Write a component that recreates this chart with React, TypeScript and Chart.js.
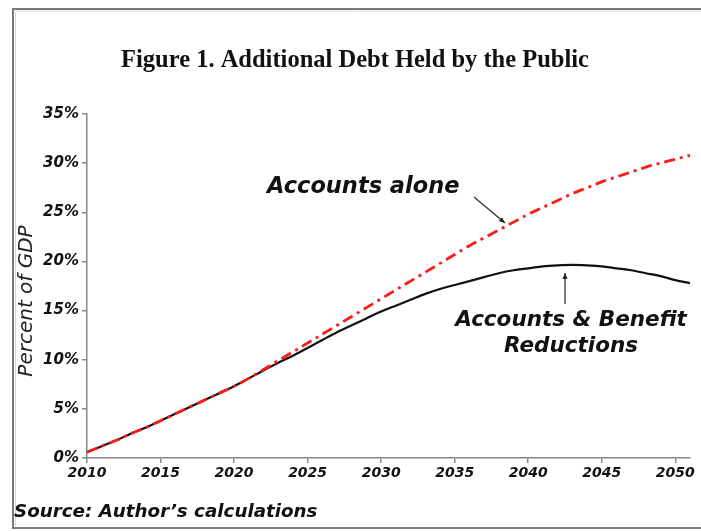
import React, { useEffect, useRef } from "react";
import { Chart, registerables } from "chart.js";

Chart.register(...registerables);

const years = [
  2010, 2011, 2012, 2013, 2014, 2015, 2016, 2017, 2018, 2019, 2020, 2021, 2022, 2023,
  2024, 2025, 2026, 2027, 2028, 2029, 2030, 2031, 2032, 2033, 2034, 2035, 2036, 2037,
  2038, 2039, 2040, 2041, 2042, 2043, 2044, 2045, 2046, 2047, 2048, 2049, 2050, 2051,
];

const accountsAlone = [
  0.6, 1.2, 1.8, 2.5, 3.1, 3.8, 4.5, 5.2, 5.9, 6.6, 7.3, 8.1, 9.0, 9.9,
  10.8, 11.7, 12.6, 13.5, 14.4, 15.3, 16.2, 17.1, 18.0, 18.9, 19.8, 20.7, 21.6, 22.4,
  23.2, 24.0, 24.8, 25.5, 26.2, 26.9, 27.5, 28.1, 28.6, 29.1, 29.6, 30.0, 30.4, 30.8,
];

const accountsAndBenefit = [
  0.6, 1.2, 1.8, 2.5, 3.1, 3.8, 4.5, 5.2, 5.9, 6.6, 7.3, 8.1, 8.9, 9.7,
  10.4, 11.2, 12.0, 12.8, 13.5, 14.2, 14.9, 15.5, 16.1, 16.7, 17.2, 17.6, 18.0, 18.4,
  18.8, 19.1, 19.3, 19.5, 19.6, 19.65, 19.6, 19.5, 19.3, 19.1, 18.8, 18.5, 18.1, 17.8,
];

const xTickValues = [2010, 2015, 2020, 2025, 2030, 2035, 2040, 2045, 2050];
const yTickValues = [0, 5, 10, 15, 20, 25, 30, 35];

const titleText = "Figure 1. Additional Debt Held by the Public";
const yAxisTitle = "Percent of GDP";
const labelAlone = "Accounts alone";
const labelBenefit1 = "Accounts & Benefit";
const labelBenefit2 = "Reductions";
const sourceText = "Source: Author\u2019s calculations";

const SANS = "'DejaVu Sans', sans-serif";

function arrow(ctx: CanvasRenderingContext2D, x1: number, y1: number, x2: number, y2: number) {
  ctx.save();
  ctx.strokeStyle = "#333";
  ctx.fillStyle = "#222";
  ctx.lineWidth = 1.3;
  ctx.beginPath();
  ctx.moveTo(x1, y1);
  ctx.lineTo(x2, y2);
  ctx.stroke();
  const ang = Math.atan2(y2 - y1, x2 - x1);
  const L = 6;
  const W = 2.5;
  ctx.beginPath();
  ctx.moveTo(x2, y2);
  ctx.lineTo(x2 - L * Math.cos(ang) + W * Math.sin(ang), y2 - L * Math.sin(ang) - W * Math.cos(ang));
  ctx.lineTo(x2 - L * Math.cos(ang) - W * Math.sin(ang), y2 - L * Math.sin(ang) + W * Math.cos(ang));
  ctx.closePath();
  ctx.fill();
  ctx.restore();
}

const decorPlugin = {
  id: "decor",
  beforeDraw(chart: any) {
    const ctx = chart.ctx as CanvasRenderingContext2D;
    ctx.save();
    ctx.fillStyle = "#ffffff";
    ctx.fillRect(0, 0, chart.width, chart.height);
    // frame
    ctx.strokeStyle = "#7a7a7a";
    ctx.lineWidth = 2;
    ctx.beginPath();
    ctx.moveTo(705, 9);
    ctx.lineTo(13, 9);
    ctx.lineTo(13, 528);
    ctx.lineTo(705, 528);
    ctx.stroke();
    ctx.strokeStyle = "#d8d8d8";
    ctx.lineWidth = 1;
    ctx.beginPath();
    ctx.moveTo(705, 11);
    ctx.lineTo(15.5, 11);
    ctx.lineTo(15.5, 526);
    ctx.stroke();
    ctx.restore();
  },
  afterDraw(chart: any) {
    const ctx = chart.ctx as CanvasRenderingContext2D;
    ctx.save();
    ctx.fillStyle = "#111";
    ctx.textBaseline = "middle";
    // title
    ctx.textAlign = "center";
    ctx.font = "bold 24.5px 'Liberation Serif', 'Times New Roman', serif";
    ctx.fillText(titleText, 355, 61);
    // y axis title
    ctx.save();
    ctx.translate(27, 301);
    ctx.rotate(-Math.PI / 2);
    ctx.font = "italic 20px " + SANS;
    ctx.fillStyle = "#222";
    ctx.fillText(yAxisTitle, 0, 0);
    ctx.restore();
    // annotations
    ctx.font = "italic bold 22.5px " + SANS;
    ctx.textAlign = "left";
    ctx.fillText(labelAlone, 267, 187);
    ctx.font = "italic bold 21.5px " + SANS;
    ctx.textAlign = "center";
    ctx.fillText(labelBenefit1, 571, 320);
    ctx.fillText(labelBenefit2, 571, 346);
    arrow(ctx, 474, 197, 505, 223);
    arrow(ctx, 565, 304, 565, 273);
    // source
    ctx.textAlign = "left";
    ctx.font = "italic bold 18.3px " + SANS;
    ctx.fillText(sourceText, 14, 512);
    ctx.restore();
  },
};

export default function App() {
  const ref = useRef<HTMLCanvasElement | null>(null);
  useEffect(() => {
    if (!ref.current) return;
    const tickFont = { family: SANS, size: 14, style: "italic" as const, weight: "bold" as const };
    const chart = new Chart(ref.current, {
      type: "line",
      data: {
        datasets: [
          {
            label: labelAlone,
            data: years.map((y, i) => ({ x: y, y: accountsAlone[i] })),
            borderColor: "#ff1a1a",
            borderWidth: 2.8,
            borderDash: [11, 5, 3, 5],
            pointRadius: 0,
            cubicInterpolationMode: "monotone",
            fill: false,
          },
          {
            label: labelBenefit1 + " " + labelBenefit2,
            data: years.map((y, i) => ({ x: y, y: accountsAndBenefit[i] })),
            borderColor: "#111111",
            borderWidth: 2.2,
            pointRadius: 0,
            cubicInterpolationMode: "monotone",
            fill: false,
          },
        ],
      },
      options: {
        animation: false,
        responsive: false,
        devicePixelRatio: 1,
        layout: { padding: { left: 0, top: 114, right: 11, bottom: 0 } },
        plugins: {
          legend: { display: false },
          title: { display: false },
          tooltip: { enabled: false },
        },
        scales: {
          x: {
            type: "linear",
            min: 2010,
            max: 2051,
            afterFit: (s: any) => {
              s.height = 73;
            },
            afterBuildTicks: (s: any) => {
              s.ticks = xTickValues.map((v) => ({ value: v }));
            },
            ticks: {
              font: tickFont,
              color: "#111",
              padding: 2,
              maxRotation: 0,
              callback: (v: any) => String(v),
            },
            grid: {
              drawOnChartArea: false,
              drawTicks: true,
              tickLength: 5,
              color: "#888",
              lineWidth: 1.5,
            },
            border: { color: "#888", width: 1.5 },
          },
          y: {
            type: "linear",
            min: 0,
            max: 35,
            afterFit: (s: any) => {
              s.width = 87;
            },
            afterBuildTicks: (s: any) => {
              s.ticks = yTickValues.map((v) => ({ value: v }));
            },
            ticks: {
              font: { family: SANS, size: 15, style: "italic" as const, weight: "bold" as const },
              color: "#111",
              padding: 3,
              callback: (v: any) => v + "%",
            },
            grid: {
              drawOnChartArea: false,
              drawTicks: true,
              tickLength: 5,
              color: "#888",
              lineWidth: 1.5,
            },
            border: { color: "#888", width: 1.5 },
          },
        },
      },
      plugins: [decorPlugin],
    });
    return () => chart.destroy();
  }, []);
  return (
    <div style={{ position: "absolute", left: 0, top: 0, width: 701, height: 531, background: "#fff" }}>
      <canvas ref={ref} width={701} height={531} style={{ display: "block" }} />
    </div>
  );
}
